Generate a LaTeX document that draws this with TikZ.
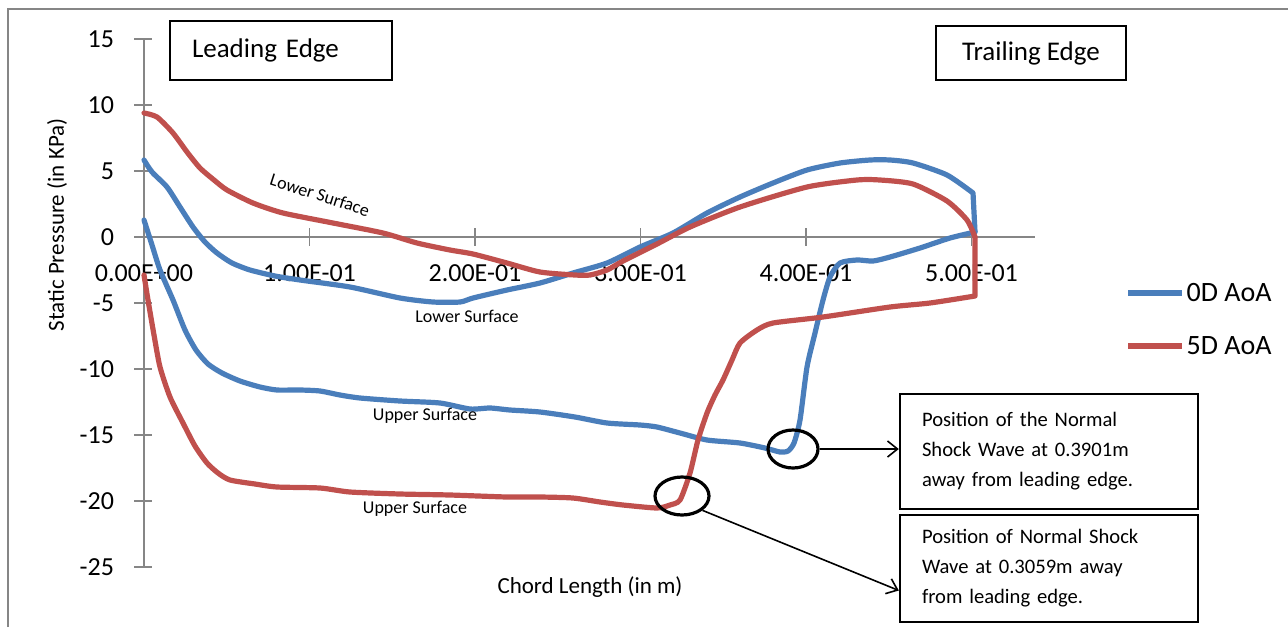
\documentclass[tikz,border=0pt]{standalone}
\usepackage{fontspec}
\setmainfont{Carlito}
\usetikzlibrary{arrows.meta,shapes.geometric}

\definecolor{zeroaoa}{RGB}{74,126,187}
\definecolor{fiveaoa}{RGB}{192,80,77}
\definecolor{axisgray}{RGB}{134,134,134}

\tikzset{
  curve/.style={line width=2.6pt, line join=round, line cap=round},
  edgebox/.style={draw, line width=1.2pt, inner ysep=0pt, font=\fontsize{13.5}{15}\selectfont},
  notebox/.style={draw, line width=1.2pt, text width=127pt, inner xsep=11pt, align=left,
    minimum width=145pt, font=\fontsize{10.3}{15}\selectfont},
  shockmark/.style={draw, ellipse, line width=1.6pt, minimum width=25pt, minimum height=19pt, inner sep=0pt},
  surf/.style={font=\fontsize{9}{10}\selectfont},
  ticklab/.style={font=\fontsize{13}{14}\selectfont},
}

\begin{document}
\begin{tikzpicture}[x=0.5pt, y=-0.5pt, >={Straight Barb[length=5pt,width=8pt]}]
  \useasboundingbox (0,0) rectangle (1288,627);
  \draw[axisgray, line width=0.8pt] (8,627) -- (8,9) -- (1288,9);

  % axes
  \draw[axisgray, line width=0.8pt] (144,39) -- (144,567);
  \draw[axisgray, line width=0.8pt] (144,237) -- (1035,237);
  \foreach \v in {15,10,...,-25} {
    \draw[axisgray, line width=0.8pt] (134,{237-13.2*\v}) -- (152,{237-13.2*\v});
    \node[ticklab, anchor=east] at (121,{237-13.2*\v}) {\v};
  }
  \foreach \i/\lab in {0/0.00E+00, 1/1.00E-01, 2/2.00E-01, 3/3.00E-01, 4/4.00E-01, 5/5.00E-01} {
    \draw[axisgray, line width=0.8pt] (144+165.5*\i,228) -- (144+165.5*\i,246);
    \node[ticklab] at (144+165.5*\i,273) {\lab};
  }
  \node[font=\fontsize{11.5}{13}\selectfont, rotate=90] at (57,225) {Static Pressure (in KPa)};
  \node[font=\fontsize{11.5}{13}\selectfont] at (590,587) {Chord Length (in m)};

  % 0 deg angle of attack
  \draw[curve, zeroaoa] plot[smooth, tension=0.4] coordinates {
    (144,220) (152,245) (160,270) (173,300) (185,330) (196,350) (208,364) (222,373)
    (240,381) (260,387) (277,390) (300,390) (320,391) (340,395) (360,398) (400,401)
    (440,403) (470,409) (490,408) (510,410) (540,412) (575,417) (607,423) (640,425)
    (657,427) (680,433) (707,440) (740,443) (765,448) (780,452) (788,451) (794,443)
    (800,420) (807,367) (815,333) (823,300) (830,277) (840,263) (857,260) (873,261)
    (890,257) (920,248) (950,238) (975,232)};
  \draw[curve, zeroaoa] plot[smooth, tension=0.4] coordinates {
    (144,160) (152,172) (167,187) (180,207) (193,227) (205,242) (217,253) (232,263)
    (250,270) (275,276) (300,280) (350,287) (400,298) (433,302) (460,302) (473,298)
    (507,290) (540,283) (573,273) (607,263) (640,247) (673,233) (707,213) (740,197)
    (773,183) (807,170) (840,163) (870,160) (890,160) (913,163) (947,175) (973,193)}
    -- (975,232);

  % 5 deg angle of attack
  \draw[curve, fiveaoa] plot[smooth, tension=0.4] coordinates {
    (144,113) (157,117) (173,133) (187,152) (200,168) (214,180) (227,190) (253,203)
    (283,213) (333,223) (383,233) (417,243) (450,250) (473,254) (507,263) (540,272)
    (575,275) (590,275) (607,270) (623,261) (657,244) (690,227) (740,207) (807,187)
    (857,180) (880,180) (913,184) (947,201) (967,220) (975,237)};
  \draw[curve, fiveaoa] plot[smooth, tension=0.4] coordinates {
    (144,275) (148,300) (154,335) (160,367) (170,397) (183,423) (195,446) (207,463)
    (218,473) (230,480) (255,484) (277,487) (320,488) (350,492) (400,494) (450,495)
    (507,497) (540,497) (573,498) (600,502) (623,505) (657,508) (670,505) (680,500)
    (690,473) (698,440) (707,413) (715,395) (723,380) (732,360) (740,343) (757,330)
    (773,323) (823,317) (890,307) (930,303) (975,296)} -- (975,237);

  % surface labels
  \node[surf, rotate=-18] at (320,195) {Lower Surface};
  \node[surf] at (467,316) {Lower Surface};
  \node[surf] at (425,416) {Upper Surface};
  \node[surf] at (415,509) {Upper Surface};

  % edge boxes
  \node[edgebox, text width=89pt, inner xsep=11pt, minimum height=29.5pt, align=left]
    (lebox) at (281,50.5) {Leading Edge};
  \node[edgebox, minimum width=95pt, minimum height=27pt] (tebox) at (1031,53) {Trailing Edge};

  % legend
  \draw[curve, zeroaoa, line cap=butt] (1128,293) -- (1182,293)
    node[right, inner sep=1pt, font=\fontsize{14}{15}\selectfont, black] (legzero) {0D AoA};
  \draw[curve, fiveaoa, line cap=butt] (1128,346) -- (1182,346)
    node[right, inner sep=1pt, font=\fontsize{14}{15}\selectfont, black] (legfive) {5D AoA};

  % shock positions
  \node[shockmark] (shockzero) at (793,449) {};
  \node[shockmark, minimum width=27pt] (shockfive) at (682,496) {};
  \node[notebox, minimum height=57.5pt] (notezero) at (1049,451.5)
    {Position of the Normal\\Shock Wave at 0.3901m\\away from leading edge.};
  \node[notebox, minimum height=53.5pt] (notefive) at (1049,568.5)
    {Position of Normal Shock\\Wave at 0.3059m away\\from leading edge.};
  \draw[->, line width=0.8pt] (shockzero) -- (shockzero -| notezero.west);
  \draw[->, line width=0.8pt] (shockfive.-35) -- ([yshift=-11pt]notefive.west);
\end{tikzpicture}
\end{document}
